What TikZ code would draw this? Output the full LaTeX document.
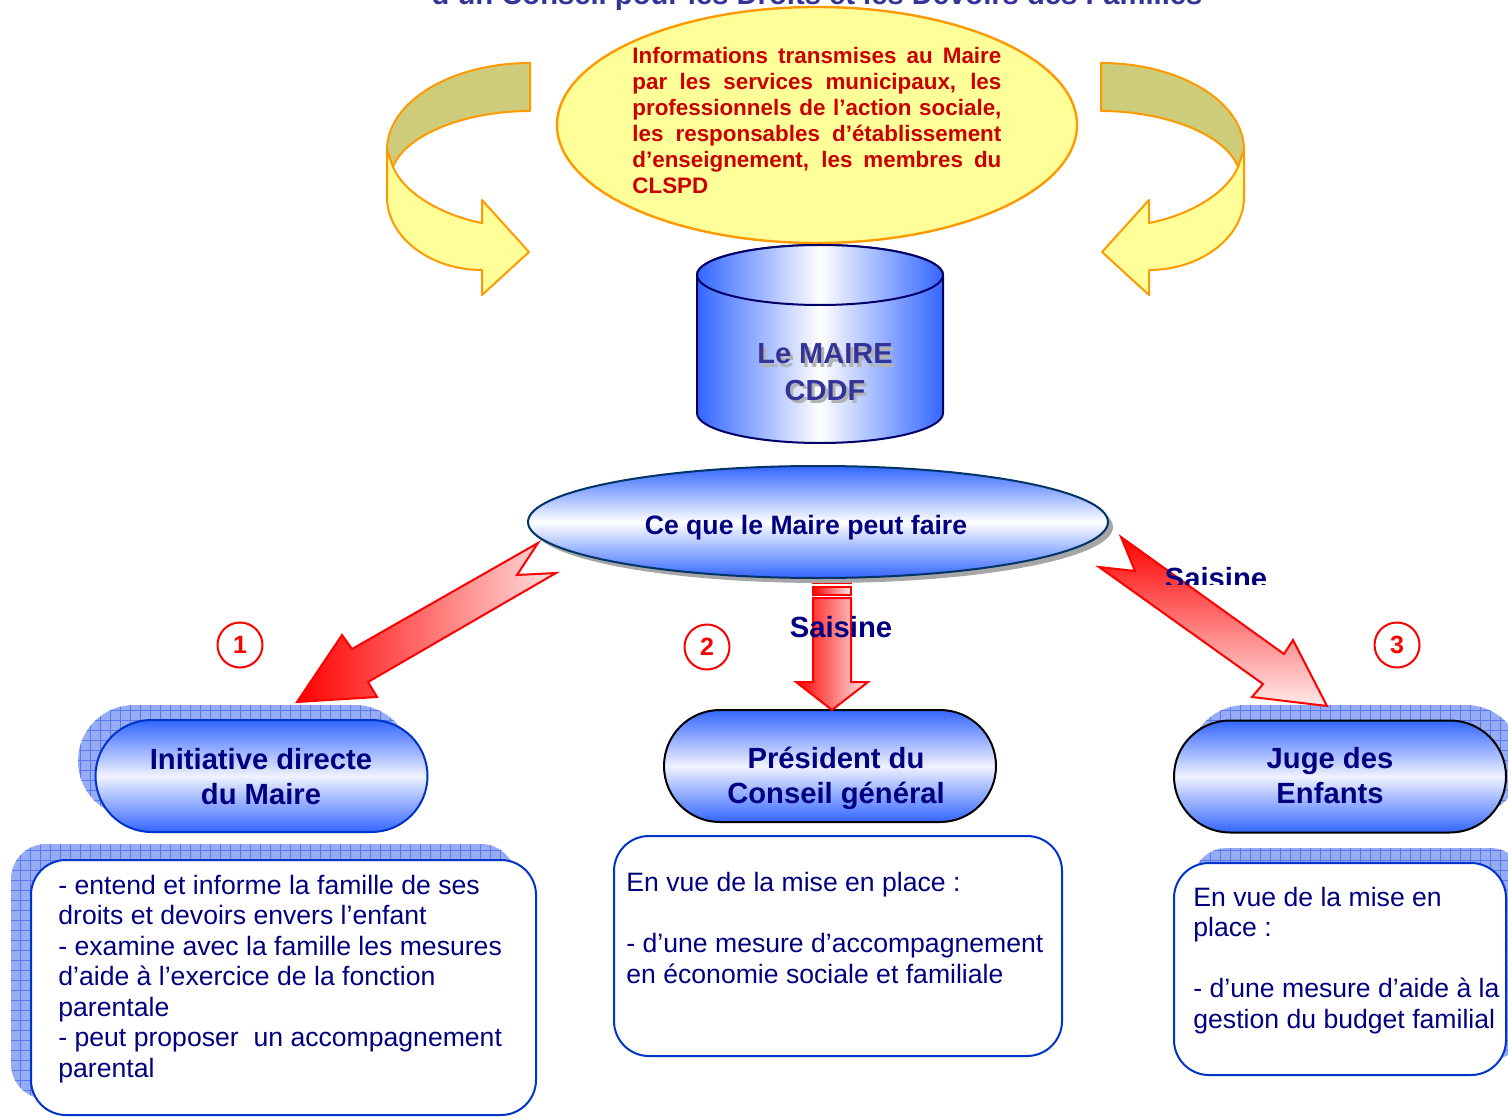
\documentclass[tikz,border=0pt]{standalone}
\usepackage{fontspec}
\setmainfont{Liberation Sans}
\usetikzlibrary{shapes.misc,shapes.geometric}

\definecolor{navy}{RGB}{0,0,128}
\definecolor{titleblue}{RGB}{51,51,153}
\definecolor{darkred}{RGB}{204,0,0}
\definecolor{lightyellow}{RGB}{255,255,153}
\definecolor{olivefill}{RGB}{204,204,122}
\definecolor{orangeline}{RGB}{255,153,0}
\definecolor{royal}{RGB}{51,102,255}
\definecolor{paleblue}{RGB}{240,242,255}
\definecolor{boxblue}{RGB}{0,51,204}
\definecolor{gridfill}{RGB}{150,172,245}
\definecolor{gridline}{RGB}{90,120,240}
\definecolor{cylline}{RGB}{0,0,102}
\definecolor{ellline}{RGB}{0,51,102}

\newcommand\fsz[2]{\fontsize{#1}{#2}\selectfont}

\newcommand\ribbonpaths{%
  \draw[ribbondark] (530,63) .. controls (451,63) and (387,102) .. (387,150)
    -- (393,167) .. controls (405,135) and (465,111) .. (530,111) -- cycle;
  \draw[ribbonlight] (387,150) -- (387,197) .. controls (387,237) and (430,270) .. (482,270)
    -- (482,295) -- (529,252) -- (482,200) -- (482,223)
    .. controls (445,216) and (405,195) .. (393,167) -- cycle;
}

% #1 corner radius, #2 xmin, #3 ymin, #4 xmax, #5 ymax (pixel units, y downwards)
\newcommand\gridshadow[5]{%
  \begin{scope}
    \clip[rounded corners=#1] (#2,#3) rectangle (#4,#5);
    \fill[gridfill] (#2,#3) rectangle (#4,#5);
    \draw[gridline, line width=0.5pt, step=5pt] (#2,#5) grid (#4,#3);
  \end{scope}}

\begin{document}
\begin{tikzpicture}[x=0.5pt,y=-0.5pt,
  ribbondark/.style={fill=olivefill, draw=orangeline, line width=1pt, line join=round},
  ribbonlight/.style={fill=lightyellow, draw=orangeline, line width=1pt, line join=round},
  pill/.style={rounded rectangle, minimum width=166pt, minimum height=56pt, inner sep=0pt,
    line width=1pt, top color=royal, bottom color=royal, middle color=paleblue},
  pilltext/.style={font=\bfseries\fsz{14.6}{17.25}, text=navy, align=center, inner sep=0pt, anchor=base},
  txtbox/.style={rectangle, rounded corners=17.5pt, draw=boxblue, fill=white, line width=1pt, inner sep=0pt},
  boxtext/.style={font=\fsz{13.3}{15.25}, text=navy, align=left, inner sep=0pt, anchor=base west},
  redarrow/.style={draw=red, line width=1pt, line join=miter},
  numcircle/.style={circle, draw=red, line width=1pt, minimum size=22.5pt, inner sep=0pt,
    text=red, font=\bfseries\fsz{12.5}{14}},
  saisine/.style={font=\bfseries\fsz{14.6}{17}, text=navy, inner sep=0pt, anchor=base},
]
\useasboundingbox (0,0) rectangle (1508,1117);
\clip (0,0) rectangle (1508,1117);
\fill[white] (0,0) rectangle (1508,1117);

% title (cut at the top)
\node[anchor=base, inner sep=0pt, font=\bfseries\fsz{14.6}{17}, text=titleblue] (title) at (817,5)
  {d’un Conseil pour les Droits et les Devoirs des Familles};

% curved ribbons
\ribbonpaths
\begin{scope}[shift={(1631,0)}, xscale=-1]
  \ribbonpaths
\end{scope}

% information ellipse
\node[ellipse, draw=orangeline, fill=lightyellow, line width=1.2pt, minimum width=260pt,
  minimum height=118pt, inner sep=0pt] (info) at (817,125) {};
\node[anchor=base west, inner sep=0pt, align=left, text=darkred, font=\bfseries\fsz{11.2}{13}]
  (infotext) at (632,194) {%
  \makebox[184.5pt][s]{Informations transmises au Maire}\\
  \makebox[184.5pt][s]{par les services municipaux, les}\\
  \makebox[184.5pt][s]{professionnels de l’action sociale,}\\
  \makebox[184.5pt][s]{les responsables d’établissement}\\
  \makebox[184.5pt][s]{d’enseignement, les membres du}\\
  CLSPD};

% cylinder
\path[left color=royal, right color=royal, middle color=white, draw=cylline, line width=1pt]
  (697,275) -- (697,413) .. controls (697,429.6) and (752.1,443) .. (820,443)
  .. controls (887.9,443) and (943,429.6) .. (943,413) -- (943,275)
  .. controls (943,258.4) and (887.9,245) .. (820,245)
  .. controls (752.1,245) and (697,258.4) .. (697,275) -- cycle;
\path[left color=royal, right color=royal, middle color=white, draw=cylline, line width=1pt]
  (820,275) ellipse [x radius=123, y radius=30];
\node[anchor=base, align=center, inner sep=0pt, font=\bfseries\fsz{14.5}{18}, text=gray!60]
  (maireshadow) at (828,403) {Le MAIRE\\CDDF};
\node[anchor=base, align=center, inner sep=0pt, font=\bfseries\fsz{14.5}{18}, text=titleblue]
  (maire) at (825,400) {Le MAIRE\\CDDF};

% stripes of the middle arrow (partly under the ellipse)
\path[redarrow, left color=red, right color=red!8!white] (813,574) rectangle (851,583);
\path[redarrow, left color=red, right color=red!8!white] (813,587) rectangle (851,595);

% what the mayor can do
\node[ellipse, fill=gray!70, minimum width=290pt, minimum height=56pt, inner sep=0pt]
  (faireshadow) at (823,527) {};
\node[ellipse, draw=ellline, line width=1pt, top color=royal, bottom color=royal, middle color=white,
  minimum width=290pt, minimum height=56pt, inner sep=0pt] (faire) at (818,522) {};
\node[anchor=base, inner sep=0pt, font=\bfseries\fsz{13.3}{16}, text=navy] (fairetext) at (806,534)
  {Ce que le Maire peut faire};

% pills
\gridshadow{28pt}{78}{705}{411}{817}
\node[pill, draw=boxblue] (initiative) at (261.5,776) {};
\node[pilltext] (initiativetext) at (261,804) {Initiative directe\\du Maire};

\node[pill, draw=black] (president) at (830,766) {};
\node[pilltext] (presidenttext) at (836,803) {Président du\\Conseil général};

\gridshadow{28pt}{1189}{705}{1522}{817}
\node[pill, draw=black] (juge) at (1340,776.5) {};
\node[pilltext] (jugetext) at (1330,803) {Juge des\\Enfants};

% text boxes
\gridshadow{17.5pt}{11}{844}{516}{1099}
\node[txtbox, minimum width=252.5pt, minimum height=127.5pt] (box1) at (283.5,987.5) {};
\node[boxtext] (box1text) at (58,1077) {- entend et informe la famille de ses\\droits et devoirs envers l’enfant\\- examine avec la famille les mesures\\d’aide à l’exercice de la fonction\\parentale\\- peut proposer\ \ un accompagnement\\parental};

\node[txtbox, minimum width=224pt, minimum height=110pt] (box2) at (838,946) {};
\node[boxtext] (box2text) at (626,983) {En vue de la mise en place :\\[15.25pt]- d’une mesure d’accompagnement\\en économie sociale et familiale};

\gridshadow{17.5pt}{1192}{848}{1525}{1060}
\node[txtbox, minimum width=166pt, minimum height=106pt] (box3) at (1340,969) {};
\node[boxtext] (box3text) at (1193,1028) {En vue de la mise en\\place :\\[15.25pt]- d’une mesure d’aide à la\\gestion du budget familial};

% red block arrows
\path[redarrow, left color=red, right color=red!12!white]
  (538,543) -- (517,575) -- (556,573) -- (368,682) -- (377,697) -- (297,702)
  -- (342,635) -- (352,649) -- cycle;
\path[redarrow, top color=red, bottom color=red!8!white]
  (1121,537) -- (1135,571) -- (1099,567) -- (1263,684) -- (1252,697) -- (1327,706)
  -- (1293,640) -- (1284,654) -- cycle;
\path[redarrow, left color=red, right color=red!8!white]
  (813,598) -- (813,682) -- (796,682) -- (832,710) -- (868,682) -- (851,682) -- (851,598) -- cycle;

% labels
\node[saisine] (saisine2) at (841,637) {Saisine};
\begin{scope}
  \clip (1140,540) rectangle (1300,584);
  \node[saisine] (saisine3) at (1216,588) {Saisine};
\end{scope}

\node[numcircle] (n1) at (240,645) {1};
\node[numcircle] (n2) at (707,647) {2};
\node[numcircle] (n3) at (1397,645) {3};
\end{tikzpicture}
\end{document}
